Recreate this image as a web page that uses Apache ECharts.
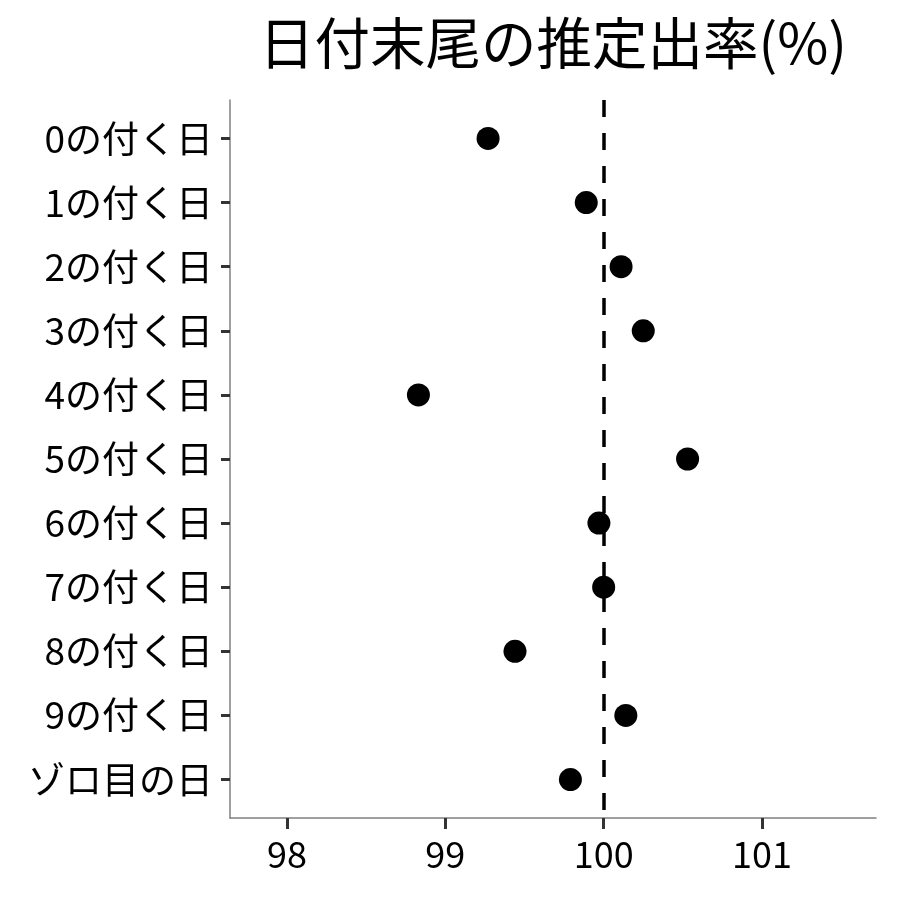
<!DOCTYPE html>
<html>
<head>
<meta charset="utf-8">
<script src="https://cdn.jsdelivr.net/npm/echarts@6/dist/echarts.min.js"></script>
<style>
  html, body { margin: 0; padding: 0; background: #fff; }
  #main { width: 900px; height: 900px; }
</style>
</head>
<body>
<div id="main"></div>
<script>
// 日付末尾ごとの推定出率
const categories = ["0の付く日", "1の付く日", "2の付く日", "3の付く日", "4の付く日",
  "5の付く日", "6の付く日", "7の付く日", "8の付く日", "9の付く日", "ゾロ目の日"];
const rates = [99.27, 99.89, 100.11, 100.25, 98.83, 100.53, 99.97, 100.0, 99.44, 100.14, 99.79];
const xTicks = [98, 99, 100, 101];
const refValue = 100;

const font = '"Noto Sans CJK JP", "Noto Sans", sans-serif';

var chart = echarts.init(document.getElementById("main"));

var option = {
  backgroundColor: "#fff",
  title: {
    text: "日付末尾の推定出率(%)",
    left: 548,
    textAlign: "center",
    top: 10,
    textStyle: { fontFamily: font, fontSize: 55.5, fontWeight: "normal", color: "#000" }
  },
  grid: { left: 230, right: 24, top: 100, bottom: 82 },
  xAxis: {
    type: "value",
    min: 97.64,
    max: 101.72,
    axisLine: { show: true, onZero: false, lineStyle: { color: "#808080", width: 1.5 } },
    axisTick: { show: true, customValues: xTicks, length: 11, lineStyle: { color: "#333", width: 3 } },
    axisLabel: {
      customValues: xTicks,
      margin: 18,
      fontFamily: font,
      fontSize: 36,
      color: "#000"
    },
    splitLine: { show: false }
  },
  yAxis: {
    type: "value",
    inverse: true,
    min: -0.6,
    max: categories.length - 1 + 0.6,
    axisLine: { show: true, onZero: false, lineStyle: { color: "#808080", width: 1.5 } },
    axisTick: {
      show: true,
      customValues: categories.map((c, i) => i),
      length: 9,
      lineStyle: { color: "#333", width: 3 }
    },
    axisLabel: {
      customValues: categories.map((c, i) => i),
      formatter: v => categories[v],
      margin: 17,
      fontFamily: font,
      fontSize: 37,
      color: "#000"
    },
    splitLine: { show: false }
  },
  series: [
    {
      type: "scatter",
      symbol: "circle",
      symbolSize: 23,
      itemStyle: { color: "#000", opacity: 1 },
      data: rates.map((v, i) => [v, i]),
      markLine: {
        silent: true,
        symbol: "none",
        label: { show: false },
        lineStyle: { color: "#000", width: 3.5, type: [17, 16], opacity: 1 },
        data: [{ xAxis: refValue }]
      },
      z: 3
    }
  ]
};

chart.setOption(option);
</script>
</body>
</html>
